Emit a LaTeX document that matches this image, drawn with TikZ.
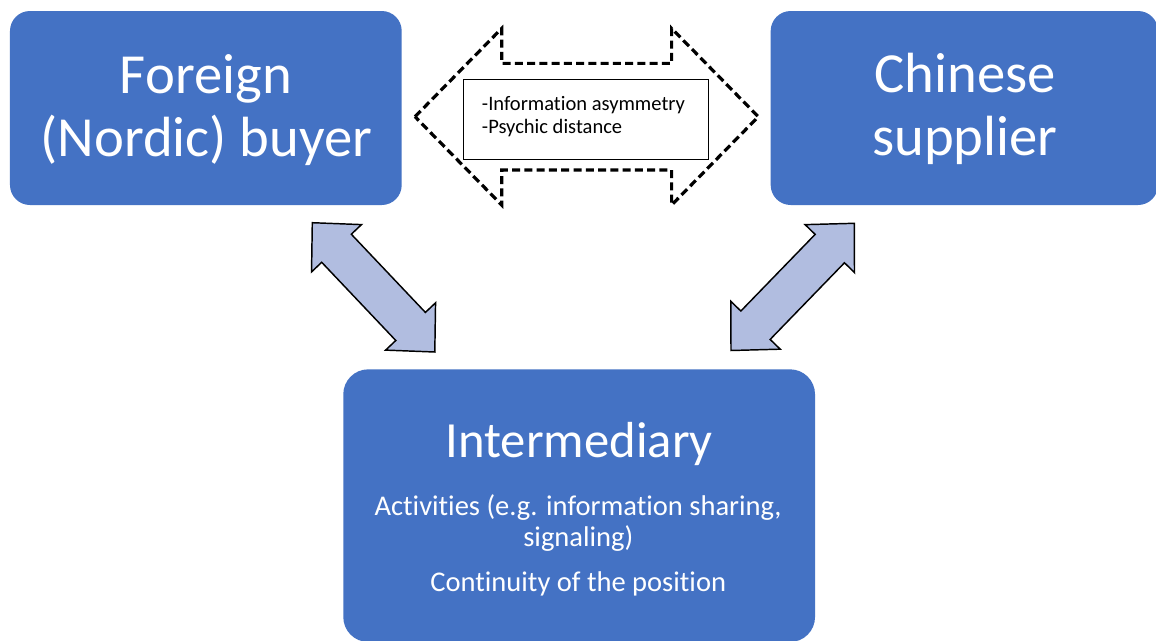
\documentclass[tikz,border=0pt]{standalone}
\usepackage{fontspec}
\setmainfont{Carlito}[Ligatures={NoCommon,NoContextual}]
\usetikzlibrary{calc}
\definecolor{boxblue}{HTML}{4472C4}
\definecolor{arrowfill}{RGB}{177,189,224}
% #1 style, #2 start, #3 end, #4 head length, #5 head half width, #6 shaft half width
\newcommand\drawblockarrow[6]{%
  \draw[#1] (#2)
    -- ($(#2)!#4!(#3)!#5!90:(#3)$)
    -- ($(#2)!#4!(#3)!#6!90:(#3)$)
    -- ($(#3)!#4!(#2)!#6!-90:(#2)$)
    -- ($(#3)!#4!(#2)!#5!-90:(#2)$)
    -- (#3)
    -- ($(#3)!#4!(#2)!#5!90:(#2)$)
    -- ($(#3)!#4!(#2)!#6!90:(#2)$)
    -- ($(#2)!#4!(#3)!#6!-90:(#3)$)
    -- ($(#2)!#4!(#3)!#5!-90:(#3)$)
    -- cycle;}
\begin{document}
\begin{tikzpicture}[x=0.75pt,y=-0.75pt,
  bluebox/.style={draw=none,fill=boxblue,rectangle,inner sep=0pt},
  bigtext/.style={anchor=base,text=white,inner sep=0pt,font=\fontsize{42.5}{51}\selectfont},
  midtext/.style={anchor=base,text=white,inner sep=0pt,font=\fontsize{38}{46}\selectfont},
  subtext/.style={anchor=base,text=white,inner sep=0pt,font=\fontsize{21.4}{26}\selectfont},
  smalltext/.style={anchor=base west,text=black,inner sep=0pt,font=\fontsize{15.4}{18.5}\selectfont},
  linkarrow/.style={draw=black,line width=1.1pt,fill=arrowfill,line join=miter},
  gaparrow/.style={draw=black,line width=2.4pt,dash pattern=on 6pt off 3.2pt,fill=white},
  issuebox/.style={draw=black,line width=0.9pt,fill=white,rectangle,inner sep=0pt,
    minimum width=183.75pt,minimum height=60pt}]
\useasboundingbox (0,0) rectangle (1156,640);
\fill[white] (0,0) rectangle (1156,640);

% boxes
\node[bluebox,rounded corners=15pt,minimum width=293.8pt,minimum height=145.5pt] (buyer) at (205.85,108) {};
\node[bluebox,rounded corners=15pt,minimum width=290.5pt,minimum height=145.5pt] (supplier) at (964.35,108) {};
\node[bluebox,rounded corners=18.75pt,minimum width=353.8pt,minimum height=204.5pt] (inter) at (579.15,505.65) {};

% box texts
\node[bigtext] (buyerA) at (205.85,93.3) {Foreign};
\node[bigtext] (buyerB) at (206.3,156.7) {(Nordic) buyer};
\node[bigtext] (supplierA) at (965,92.7) {Chinese};
\node[bigtext] (supplierB) at (965,155) {supplier};
\node[midtext] (interA) at (579.2,457.3) {Intermediary};
\node[subtext] (interB) at (578.1,515) {Activities (e.g. information sharing,};
\node[subtext] (interC) at (578.3,546.7) {signaling)};
\node[subtext] (interD) at (578.3,591.7) {Continuity of the position};

% dashed double arrow between buyer and supplier
\coordinate (gapL) at (415,116.7);
\coordinate (gapR) at (758.3,116.7);
\drawblockarrow{gaparrow}{gapL}{gapR}{65pt}{66.2pt}{40pt}
\node[issuebox] (issues) at (585.8,119.3) {};
\node[smalltext] (issueA) at (481.7,110) {-Information asymmetry};
\node[smalltext] (issueB) at (481.7,133.3) {-Psychic distance};

% diagonal double arrows
\coordinate (lA) at (312.3,222.7);
\coordinate (lB) at (434.8,352);
\coordinate (rA) at (854.3,223.3);
\coordinate (rB) at (731,350.5);
\drawblockarrow{linkarrow}{lA}{lB}{26.4pt}{25.8pt}{15.3pt}
\drawblockarrow{linkarrow}{rA}{rB}{26.4pt}{25.8pt}{15.3pt}
\end{tikzpicture}
\end{document}
